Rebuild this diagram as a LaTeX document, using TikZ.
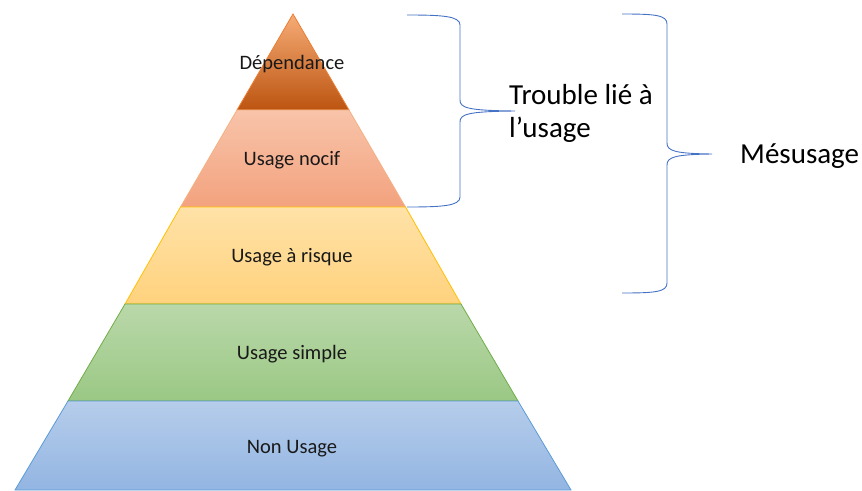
\documentclass[tikz,border=0pt]{standalone}
\usepackage{fontspec}
\setmainfont{Carlito}
\begin{document}
\definecolor{depTop}{RGB}{246,172,118}
\definecolor{depBot}{RGB}{188,84,16}
\definecolor{depLine}{RGB}{237,125,49}
\definecolor{nocTop}{RGB}{248,196,170}
\definecolor{nocBot}{RGB}{243,162,126}
\definecolor{nocLine}{RGB}{244,177,131}
\definecolor{risTop}{RGB}{255,226,168}
\definecolor{risBot}{RGB}{255,210,125}
\definecolor{risLine}{RGB}{255,192,0}
\definecolor{simTop}{RGB}{186,216,170}
\definecolor{simBot}{RGB}{154,200,132}
\definecolor{simLine}{RGB}{112,173,71}
\definecolor{nonTop}{RGB}{182,205,235}
\definecolor{nonBot}{RGB}{147,181,226}
\definecolor{nonLine}{RGB}{91,155,213}
\definecolor{braceBlue}{RGB}{68,114,196}
\begin{tikzpicture}[x=1pt,y=-1pt,
  layer/.style={line width=0.8pt, line join=miter},
  layerlabel/.style={font=\fontsize{20.5}{24}\selectfont, text=black!90},
  bracelabel/.style={font=\fontsize{29}{33}\selectfont, text=black, inner sep=0pt},
  bracepath/.style={draw=braceBlue, line width=0.9pt}]
\useasboundingbox (0,0) rectangle (862,490);

% pyramid layers, apex to base
\path[layer, draw=depLine, top color=depTop, bottom color=depBot]
  (293,14) -- (349,110) -- (237,110) -- cycle;
\path[layer, draw=nocLine, top color=nocTop, bottom color=nocBot]
  (237,110) -- (349,110) -- (405.5,207) -- (180.5,207) -- cycle;
\path[layer, draw=risLine, top color=risTop, bottom color=risBot]
  (180.5,207) -- (405.5,207) -- (461,304) -- (125,304) -- cycle;
\path[layer, draw=simLine, top color=simTop, bottom color=simBot]
  (125,304) -- (461,304) -- (518,401) -- (68,401) -- cycle;
\path[layer, draw=nonLine, top color=nonTop, bottom color=nonBot]
  (68,401) -- (518,401) -- (571,490) -- (15,490) -- cycle;

% layer names
\node[layerlabel] (dep) at (292,64) {Dépendance};
\node[layerlabel] (noc) at (292,160.5) {Usage nocif};
\node[layerlabel] (ris) at (292,257.5) {Usage à risque};
\node[layerlabel] (sim) at (292,354) {Usage simple};
\node[layerlabel] (non) at (292,449) {Non Usage};

% group labels
\node[bracelabel, align=left, anchor=west] (trouble) at (509,113) {Trouble lié à\\l’usage};
\node[bracelabel, anchor=base west] (mes) at (740,163) {Mésusage};

% brace ends and tips
\coordinate (b1top) at (407,15);
\coordinate (b1bot) at (407,207);
\coordinate (b1tip) at (515,111);
\coordinate (b2top) at (622,14);
\coordinate (b2bot) at (622,293);
\coordinate (b2tip) at (712,154);

% brace over the two upper layers
\draw[bracepath] (b1top) .. controls (442,15) and (460,16) .. (460,25)
  -- (460,100) .. controls (460,108) and (468,110.5) .. (b1tip)
  .. controls (468,111.5) and (460,114) .. (460,122)
  -- (460,197) .. controls (460,206) and (442,207) .. (b1bot);

% brace over the three upper layers
\draw[bracepath] (b2top) .. controls (655,14) and (667,15) .. (667,24)
  -- (667,143) .. controls (667,151) and (675,153.5) .. (b2tip)
  .. controls (675,154.5) and (667,157) .. (667,165)
  -- (667,283) .. controls (667,292) and (655,293) .. (b2bot);
\end{tikzpicture}
\end{document}
